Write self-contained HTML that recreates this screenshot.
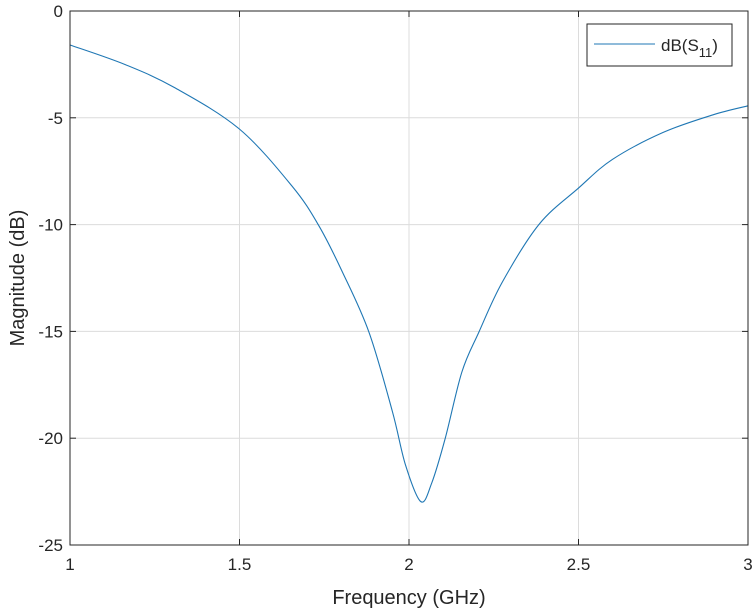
<!DOCTYPE html>
<html><head><meta charset="utf-8"><style>
body{margin:0;background:#fff;}
svg{display:block;font-family:"Liberation Sans",Arial,sans-serif;}
</style></head><body>
<svg id="chart" width="756" height="612" viewBox="0 0 756 612">
<rect width="756" height="612" fill="#fff"/>
<g id="grid"></g>
<g id="ticks"></g>
<path id="curve" fill="none" stroke="#1f77b4" stroke-width="1.1"/>
<rect x="70" y="11" width="678" height="534" fill="none" stroke="#262626" stroke-width="1"/>
<text x="409" y="604" font-size="20" text-anchor="middle" fill="#262626">Frequency (GHz)</text>
<text transform="translate(24,278) rotate(-90)" font-size="20" text-anchor="middle" fill="#262626">Magnitude (dB)</text>
<g>
<rect x="587" y="24" width="145" height="42" fill="#fff" stroke="#262626" stroke-width="1"/>
<line x1="594" y1="44" x2="655" y2="44" stroke="#1f77b4" stroke-width="1.1"/>
<text x="661" y="51" font-size="17" fill="#262626">dB(S<tspan font-size="13" dy="6">11</tspan><tspan dy="-6">)</tspan></text>
</g>
</svg>
<script>
const freqs=[1,1.163,1.31,1.5,1.655,1.734,1.803,1.882,1.951,1.99,2.035,2.067,2.107,2.156,2.206,2.275,2.383,2.5,2.6,2.749,2.897,3];
const s11=[-1.59,-2.51,-3.6,-5.53,-8.2,-10.05,-12.2,-15.04,-18.75,-21.27,-22.97,-22.1,-20.0,-16.9,-15.04,-12.7,-10.0,-8.29,-6.95,-5.69,-4.86,-4.44];
const xTicks=[1,1.5,2,2.5,3];
const xTickLabels=["1","1.5","2","2.5","3"];
const yTicks=[0,-5,-10,-15,-20,-25];
const yTickLabels=["0","-5","-10","-15","-20","-25"];
const L=70,R=748,T=11,B=545;
function sx(v){return L+(v-1)/2*(R-L);}
function sy(v){return T+(0-v)/25*(B-T);}
const ns="http://www.w3.org/2000/svg";
const grid=document.getElementById('grid'),ticks=document.getElementById('ticks');
xTicks.forEach((v,i)=>{
 const x=sx(v);
 const g=document.createElementNS(ns,'line');
 
 
 g.setAttribute('x1',x);g.setAttribute('x2',x);g.setAttribute('y1',T);g.setAttribute('y2',B);
 g.setAttribute('stroke','#dcdcdc');grid.appendChild(g);
 [[B,B-6],[T,T+6]].forEach(p=>{const t=document.createElementNS(ns,'line');
 
 
 t.setAttribute('x1',x);t.setAttribute('x2',x);t.setAttribute('y1',p[0]);t.setAttribute('y2',p[1]);t.setAttribute('stroke','#262626');ticks.appendChild(t);});
 const tx=document.createElementNS(ns,'text');
 
 
 tx.setAttribute('x',x);tx.setAttribute('y',B+25);tx.setAttribute('text-anchor','middle');tx.setAttribute('font-size','17');tx.setAttribute('fill','#262626');
 tx.textContent=xTickLabels[i];ticks.appendChild(tx);
});
yTicks.forEach((v,i)=>{
 const y=sy(v);
 const g=document.createElementNS(ns,'line');
 
 
 g.setAttribute('x1',L);g.setAttribute('x2',R);g.setAttribute('y1',y);g.setAttribute('y2',y);
 g.setAttribute('stroke','#dcdcdc');grid.appendChild(g);
 [[L,L+6],[R,R-6]].forEach(p=>{const t=document.createElementNS(ns,'line');
 
 
 t.setAttribute('x1',p[0]);t.setAttribute('x2',p[1]);t.setAttribute('y1',y);t.setAttribute('y2',y);t.setAttribute('stroke','#262626');ticks.appendChild(t);});
 const tx=document.createElementNS(ns,'text');
 
 
 tx.setAttribute('x',L-7);tx.setAttribute('y',y+6);tx.setAttribute('text-anchor','end');tx.setAttribute('font-size','17');tx.setAttribute('fill','#262626');
 tx.textContent=yTickLabels[i];ticks.appendChild(tx);
});
const P=freqs.map((f,i)=>[sx(f),sy(s11[i])]);
let d='M'+P[0][0]+','+P[0][1];
for(let i=0;i<P.length-1;i++){
 const p0=P[Math.max(0,i-1)],p1=P[i],p2=P[i+1],p3=P[Math.min(P.length-1,i+2)];
 const c1=[p1[0]+(p2[0]-p0[0])/6,p1[1]+(p2[1]-p0[1])/6];
 const c2=[p2[0]-(p3[0]-p1[0])/6,p2[1]-(p3[1]-p1[1])/6];
 d+=' C'+c1[0]+','+c1[1]+' '+c2[0]+','+c2[1]+' '+p2[0]+','+p2[1];
}
document.getElementById('curve').setAttribute('d',d);
</script>
</body></html>
